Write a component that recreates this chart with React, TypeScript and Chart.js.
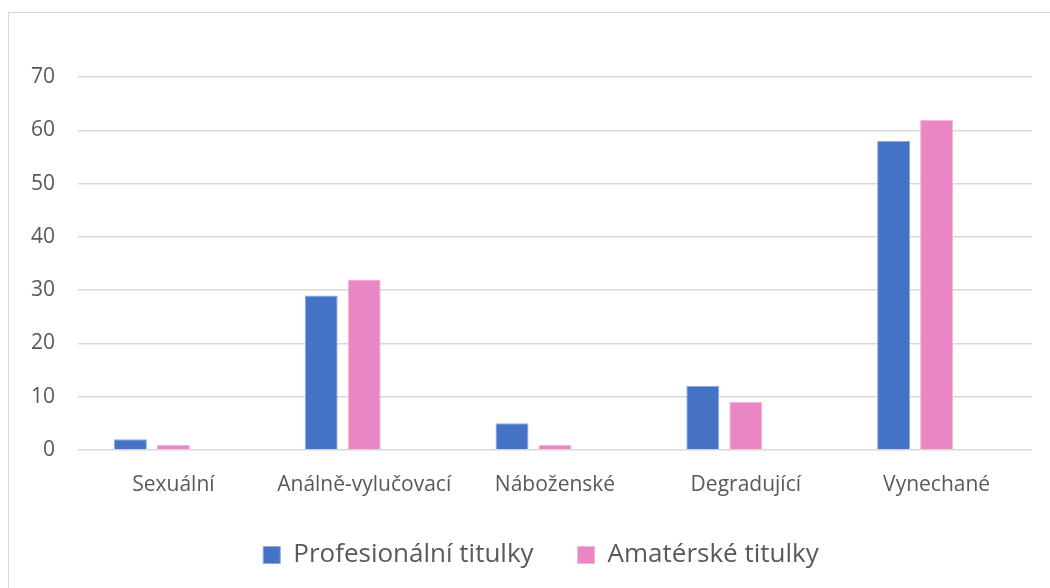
import React, { useEffect, useRef } from "react";
import { Chart, registerables } from "chart.js";

Chart.register(...registerables);

const categories = ["Sexuální", "Análně-vylučovací", "Náboženské", "Degradující", "Vynechané"];
const profesionalni = [2, 29, 5, 12, 58];
const amaterske = [1, 32, 1, 9, 62];
const emptySeries = [null, null, null, null, null];
const seriesNames = ["Profesionální titulky", "Amatérské titulky", ""];
const yTicks = [0, 10, 20, 30, 40, 50, 60, 70];

const FONT = "'Open Sans', Lato, sans-serif";

const legendShift = {
  id: "legendShift",
  afterLayout(chart: any) {
    const lg = chart.legend;
    if (lg) {
      lg.left += 25;
      lg.right += 25;
    }
  },
};

export default function App() {
  const ref = useRef<HTMLCanvasElement>(null);
  useEffect(() => {
    if (!ref.current) return;
    const chart = new Chart(ref.current, {
      type: "bar",
      data: {
        labels: categories,
        datasets: [
          {
            label: seriesNames[0],
            data: profesionalni,
            backgroundColor: "#4472C4",
            borderColor: "#8FAADC",
            borderWidth: 1,
          },
          {
            label: seriesNames[1],
            data: amaterske,
            backgroundColor: "#E887C3",
            borderColor: "#F2B6DB",
            borderWidth: 1,
          },
          {
            label: seriesNames[2],
            data: emptySeries as any,
            backgroundColor: "rgba(0,0,0,0)",
          },
        ],
      },
      plugins: [legendShift],
      options: {
        responsive: false,
        animation: false,
        maintainAspectRatio: false,
        datasets: {
          bar: { categoryPercentage: 0.676, barPercentage: 0.767 },
        },
        layout: { padding: { top: 77, left: 0, right: 18, bottom: 10 } },
        plugins: {
          tooltip: { enabled: false },
          legend: {
            position: "bottom",
            labels: {
              filter: (item: any) => item.text !== "",
              boxWidth: 17,
              boxHeight: 17,
              padding: 44,
              color: "#595959",
              font: { family: FONT, size: 26 },
            },
          },
        },
        scales: {
          x: {
            grid: { display: false },
            border: { display: false },
            afterFit: (axis: any) => {
              axis.height = 48;
            },
            ticks: {
              color: "#595959",
              font: { family: FONT, size: 21 },
              padding: 14,
            },
          },
          y: {
            min: 0,
            max: 70,
            afterBuildTicks: (axis: any) => {
              axis.ticks = yTicks.map((v) => ({ value: v }));
            },
            afterFit: (axis: any) => {
              axis.width = 78;
            },
            grid: { color: "#d9d9d9", lineWidth: 1.5, drawTicks: false },
            border: { display: false },
            ticks: {
              color: "#595959",
              font: { family: FONT, size: 21 },
              padding: 23,
            },
          },
        },
      },
    });
    return () => chart.destroy();
  }, []);

  return (
    <div
      style={{
        position: "fixed",
        left: 0,
        top: 0,
        width: 1050,
        height: 588,
        background: "#fff",
        overflow: "hidden",
      }}
    >
      <div
        style={{
          position: "absolute",
          left: 8,
          top: 12,
          width: 1100,
          height: 700,
          border: "1px solid #d9d9d9",
          boxSizing: "border-box",
        }}
      />
      <canvas
        ref={ref}
        width={1050}
        height={588}
        style={{ position: "absolute", left: 0, top: 0, width: 1050, height: 588 }}
      />
    </div>
  );
}
